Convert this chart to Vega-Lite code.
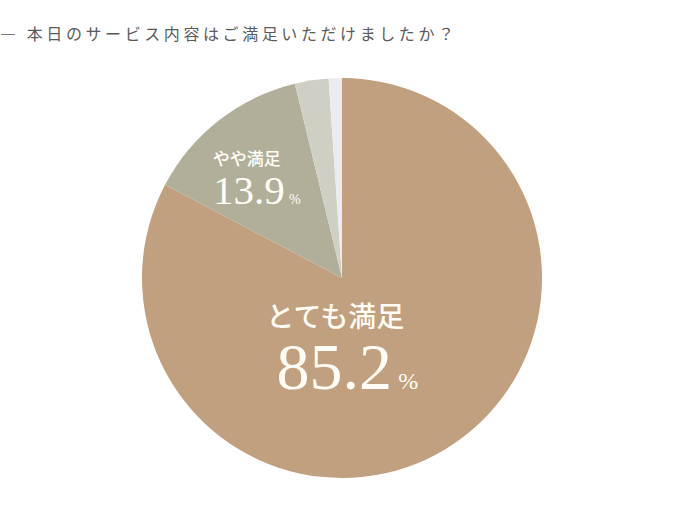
{
  "$schema": "https://vega.github.io/schema/vega-lite/v6.json",
  "autosize": {"type": "none"},
  "width": 684,
  "height": 456,
  "padding": {"left": 0, "top": 50, "right": 0, "bottom": 12},
  "background": "#ffffff",
  "title": {
    "text": "―\u00a0\u00a0 本 日 の サ ー ビ ス 内 容 は ご 満 足 い た だ け ま し た か ？",
    "anchor": "start",
    "frame": "group",
    "baseline": "alphabetic",
    "offset": -6,
    "font": "Noto Sans CJK JP",
    "fontSize": 16,
    "fontWeight": "normal",
    "color": "#5a5a5a"
  },
  "data": {
    "values": [
      {"category": "とても満足", "value": 85.2, "rank": 1},
      {"category": "やや満足", "value": 13.9, "rank": 2},
      {"category": "ふつう", "value": 2.8, "rank": 3},
      {"category": "やや不満", "value": 1.1, "rank": 4}
    ]
  },
  "encoding": {
    "theta": {"field": "value", "type": "quantitative", "stack": true},
    "order": {"field": "rank", "type": "quantitative"}
  },
  "view": {"stroke": null},
  "layer": [
    {
      "mark": {"type": "arc", "radius": 200},
      "encoding": {
        "color": {
          "field": "category",
          "type": "nominal",
          "scale": {
            "domain": ["とても満足", "やや満足", "ふつう", "やや不満"],
            "range": ["#c1a07f", "#b1af9a", "#cfcfc3", "#ececf0"]
          },
          "legend": null
        }
      }
    },
    {
      "mark": {"type": "text", "radius": 45, "font": "Noto Sans CJK JP", "fontSize": 28, "fontWeight": 500, "color": "#fffdf5", "align": "center", "baseline": "alphabetic", "dx": -30, "dy": 10},
      "encoding": {
        "text": {"condition": {"test": "datum.category === 'とても満足'", "field": "category"}, "value": ""}
      }
    },
    {
      "mark": {"type": "text", "radius": 45, "font": "Liberation Serif", "fontSize": 66, "color": "#fffdf5", "align": "center", "baseline": "alphabetic", "dx": -31, "dy": 72},
      "encoding": {
        "text": {"condition": {"test": "datum.category === 'とても満足'", "field": "value", "format": ".1f"}, "value": ""}
      }
    },
    {
      "mark": {"type": "text", "radius": 45, "font": "Liberation Serif", "fontSize": 24, "color": "#fffdf5", "align": "center", "baseline": "alphabetic", "dx": 43, "dy": 72},
      "encoding": {
        "text": {"condition": {"test": "datum.category === 'とても満足'", "value": "%"}, "value": ""}
      }
    },
    {
      "mark": {"type": "text", "radius": 150, "font": "Noto Sans CJK JP", "fontSize": 17, "fontWeight": 500, "color": "#fffdf5", "align": "center", "baseline": "alphabetic", "dx": -3, "dy": 5},
      "encoding": {
        "text": {"condition": {"test": "datum.category === 'やや満足'", "field": "category"}, "value": ""}
      }
    },
    {
      "mark": {"type": "text", "radius": 150, "font": "Liberation Serif", "fontSize": 41, "color": "#fffdf5", "align": "center", "baseline": "alphabetic", "dx": -1, "dy": 44},
      "encoding": {
        "text": {"condition": {"test": "datum.category === 'やや満足'", "field": "value", "format": ".1f"}, "value": ""}
      }
    },
    {
      "mark": {"type": "text", "radius": 150, "font": "Liberation Serif", "fontSize": 14, "color": "#fffdf5", "align": "center", "baseline": "alphabetic", "dx": 45, "dy": 44},
      "encoding": {
        "text": {"condition": {"test": "datum.category === 'やや満足'", "value": "%"}, "value": ""}
      }
    }
  ]
}
